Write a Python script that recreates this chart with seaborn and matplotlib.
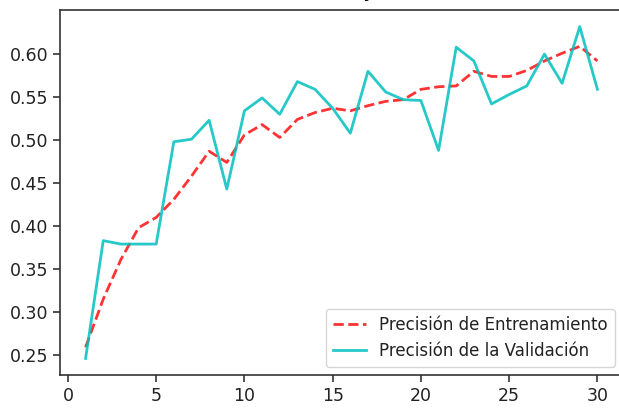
import matplotlib
matplotlib.use("Agg")
import matplotlib.pyplot as plt
import seaborn as sns
import pandas as pd

epochs = list(range(1, 31))
train_acc = [0.259, 0.315, 0.361, 0.398, 0.410, 0.431, 0.458, 0.487, 0.474, 0.506,
             0.518, 0.503, 0.524, 0.532, 0.537, 0.534, 0.540, 0.545, 0.547, 0.559,
             0.562, 0.563, 0.580, 0.574, 0.574, 0.581, 0.592, 0.601, 0.609, 0.592]
val_acc = [0.246, 0.383, 0.379, 0.379, 0.379, 0.498, 0.501, 0.523, 0.443, 0.534,
           0.549, 0.530, 0.568, 0.559, 0.537, 0.508, 0.580, 0.556, 0.547, 0.546,
           0.488, 0.608, 0.592, 0.542, 0.553, 0.563, 0.600, 0.566, 0.632, 0.559]
train_label = "Precisión de Entrenamiento"
val_label = "Precisión de la Validación"
title = "Precisión de Entrenamiento y Validación"

df_train = pd.DataFrame({"epoch": epochs, "acc": train_acc})
df_val = pd.DataFrame({"epoch": epochs, "acc": val_acc})

plt.rcParams["font.family"] = ["DejaVu Sans"]
fig = plt.figure(figsize=(6.19, 4.08), dpi=100)
ax = fig.add_axes([60 / 619, 33 / 408, 563 / 619, 365 / 408])

sns.lineplot(data=df_train, x="epoch", y="acc", ax=ax, color="red", alpha=0.8,
             linestyle="--", linewidth=2, label=train_label)
sns.lineplot(data=df_val, x="epoch", y="acc", ax=ax, color="c", alpha=0.85,
             linewidth=2, label=val_label)

ax.set_xlim(-0.45, 31.45)
ax.set_xlabel("")
ax.set_ylabel("")
ax.set_xticks([0, 5, 10, 15, 20, 25, 30])
ax.set_yticks([0.25, 0.30, 0.35, 0.40, 0.45, 0.50, 0.55, 0.60])
ax.set_yticklabels(["0.25", "0.30", "0.35", "0.40", "0.45", "0.50", "0.55", "0.60"])
ax.tick_params(labelsize=12.5, colors="#333333", labelcolor="#222222", length=5, width=1.2)
for s in ax.spines.values():
    s.set_color("#333333")
    s.set_linewidth(1.2)

# title: only the descender of its "y" shows above the axes, near x = 370 px
title_size = 15.5
renderer = fig.canvas.get_renderer()
def text_width(s):
    t = fig.text(0, 0, s, fontsize=title_size)
    w = t.get_window_extent(renderer).width
    t.remove()
    return w
w_full = text_width(title)
prefix = title[: title.index(" y ") + 2]
w_prefix = text_width(prefix)
w_y = text_width("y")
x_center_px = 370 - (w_prefix - w_y / 2) + w_full / 2
ax.set_title(title, fontsize=title_size, x=(x_center_px - 60) / 563, pad=9.5)

leg = ax.legend(loc="lower right", fontsize=12)
for t in leg.get_texts():
    t.set_color("#222222")

fig.savefig("out.png", dpi=100)
